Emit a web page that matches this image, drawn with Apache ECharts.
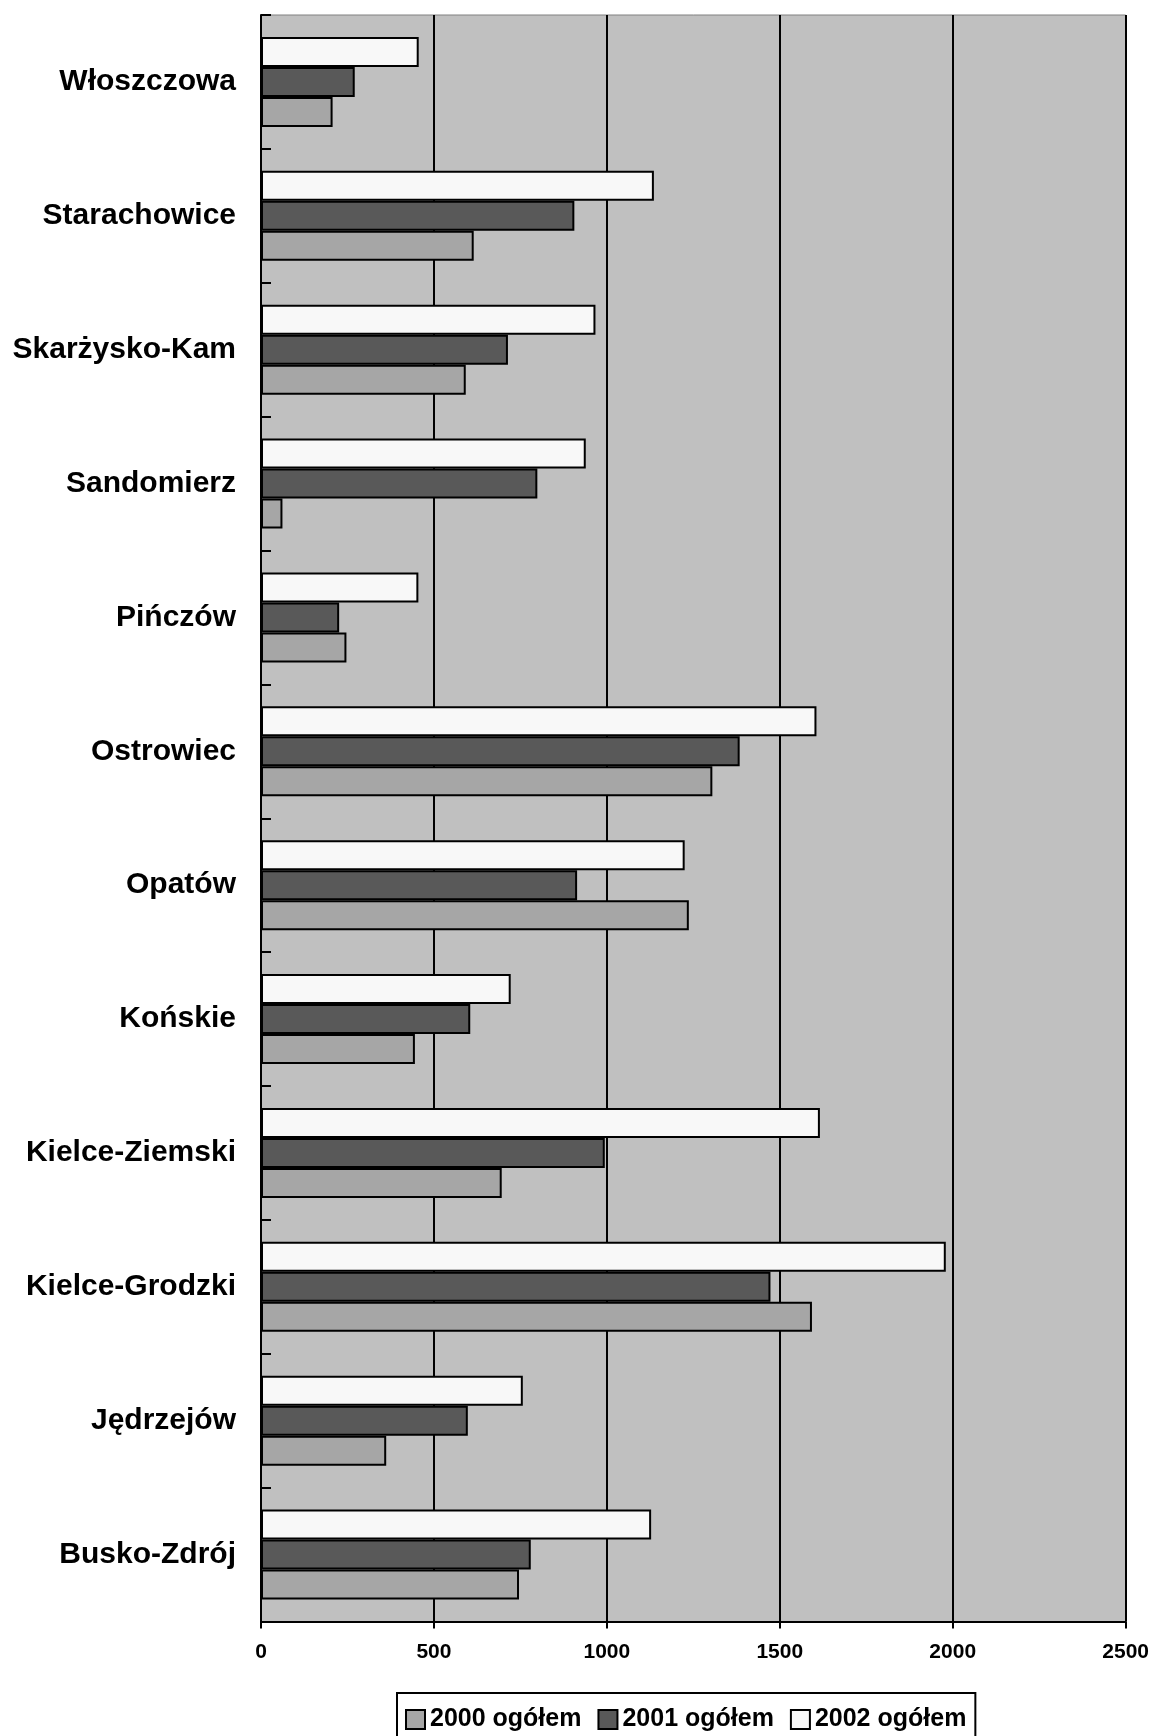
<!DOCTYPE html>
<html>
<head>
<meta charset="utf-8">
<script src="https://cdn.jsdelivr.net/npm/echarts@6/dist/echarts.min.js"></script>
<style>
html,body{margin:0;padding:0;background:#fff;}
#chart{width:1152px;height:1736px;}
</style>
</head>
<body>
<div id="chart"></div>
<script>
// Categories, bottom to top (as ECharts lays out a category y-axis)
var categories = ["Busko-Zdrój","Jędrzejów","Kielce-Grodzki","Kielce-Ziemski","Końskie","Opatów","Ostrowiec","Pińczów","Sandomierz","Skarżysko-Kam","Starachowice","Włoszczowa"];
var seriesNames = ["2000 ogółem","2001 ogółem","2002 ogółem"];
var values2000 = [746, 362, 1593, 696, 445, 1237, 1305, 247, 62, 592, 615, 207];
var values2001 = [780, 598, 1473, 994, 605, 914, 1384, 226, 799, 714, 906, 271];
var values2002 = [1128, 757, 1980, 1616, 722, 1225, 1606, 455, 939, 967, 1136, 456];
var xTicks = {min: 0, max: 2500, interval: 500};

var FONT = '"Liberation Sans", Arial, sans-serif';
var colors = ['#a6a6a6', '#595959', '#f8f8f8'];
var dataSets = [values2000, values2001, values2002];

var chart = echarts.init(document.getElementById('chart'), null, {renderer: 'canvas'});
// ECharts puts the first series of a group at the top, so add 2002 first.
var series = [2, 1, 0].map(function (i) {
  return {
    name: seriesNames[i],
    type: 'bar',
    data: dataSets[i],
    barWidth: 30,
    barGap: '0%',
    itemStyle: {color: colors[i], borderColor: '#000', borderWidth: 2},
    emphasis: {disabled: true}
  };
});

chart.setOption({
  animation: false,
  grid: {
    left: 261, right: 26, top: 15, bottom: 114.5,
    show: true, backgroundColor: '#c0c0c0', borderColor: '#808080', borderWidth: 1
  },
  legend: {
    data: seriesNames,
    left: 397, top: 1693,
    icon: 'rect', itemWidth: 19, itemHeight: 19, itemGap: 16,
    padding: [14, 9, 24, 8],
    backgroundColor: '#fff', borderColor: '#000', borderWidth: 2,
    textStyle: {fontFamily: FONT, fontWeight: 'bold', fontSize: 25, color: '#000'}
  },
  xAxis: {
    type: 'value',
    min: xTicks.min, max: xTicks.max, interval: xTicks.interval,
    axisLine: {show: true, lineStyle: {color: '#000', width: 2}},
    axisTick: {show: true, length: 7, lineStyle: {color: '#000', width: 2}},
    splitLine: {show: true, lineStyle: {color: '#000', width: 2}},
    axisLabel: {
      fontFamily: FONT, fontWeight: 'bold', fontSize: 21, color: '#000', margin: 20,
      formatter: function (v) { return String(v); }
    }
  },
  yAxis: {
    type: 'category',
    data: categories,
    axisLine: {show: true, lineStyle: {color: '#000', width: 2}},
    axisTick: {show: true, inside: true, length: 10, lineStyle: {color: '#000', width: 2}},
    splitLine: {show: false},
    axisLabel: {fontFamily: FONT, fontWeight: 'bold', fontSize: 30, color: '#000', margin: 25}
  },
  series: series
});
</script>
</body>
</html>
